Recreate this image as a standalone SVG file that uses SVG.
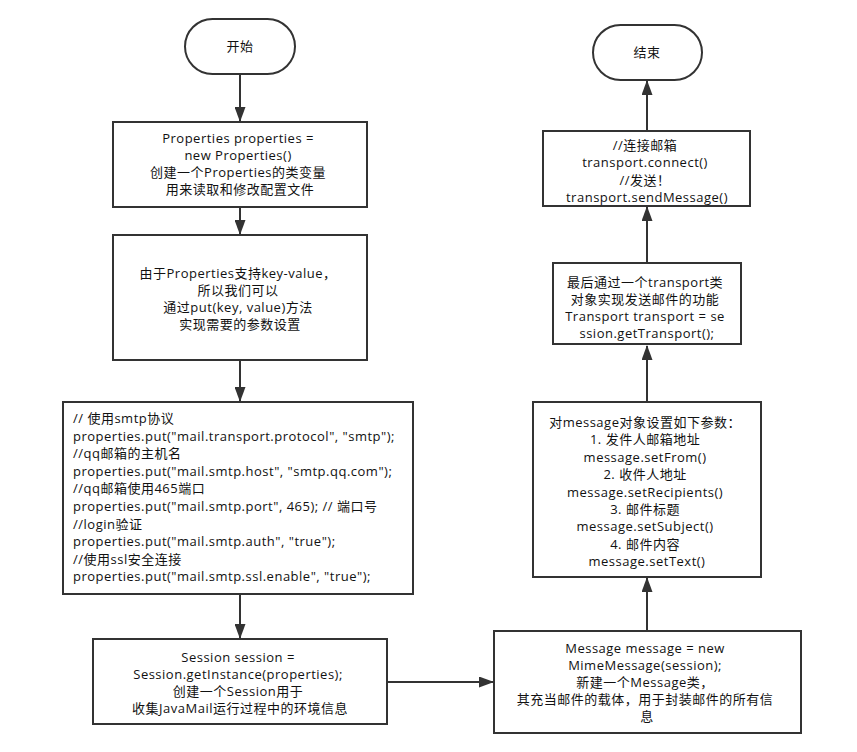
<svg xmlns="http://www.w3.org/2000/svg" width="857" height="752" viewBox="0 0 857 752">
  <style>
    .box { fill: #ffffff; stroke: #333333; stroke-width: 2; }
    .txt { font-family: "Open Sans", "Noto Sans CJK SC", sans-serif; font-size: 13px; letter-spacing: 0.5px; fill: #111111; }
    .c { text-anchor: middle; }
    .edge { stroke: #333333; stroke-width: 2; fill: none; marker-end: url(#arrow); }
  </style>
  <defs>
    <marker id="arrow" markerUnits="userSpaceOnUse" markerWidth="15" markerHeight="11" viewBox="0 0 15 11" refX="14" refY="5.5" orient="auto">
      <path d="M0,0 L15,5.5 L0,11 z" fill="#333333"/>
    </marker>
  </defs>
  <rect width="857" height="752" fill="#ffffff"/>

  <g id="connectors">
    <line class="edge" x1="240" y1="74" x2="240" y2="121"/>
    <line class="edge" x1="240" y1="207" x2="240" y2="234"/>
    <line class="edge" x1="240" y1="360" x2="240" y2="401"/>
    <line class="edge" x1="240" y1="594" x2="240" y2="638"/>
    <line class="edge" x1="387" y1="682" x2="493" y2="682"/>
    <line class="edge" x1="647" y1="631" x2="647" y2="578"/>
    <line class="edge" x1="647" y1="402" x2="647" y2="346"/>
    <line class="edge" x1="647" y1="263" x2="647" y2="207"/>
    <line class="edge" x1="647" y1="131" x2="647" y2="81"/>
  </g>

  <g id="start">
    <rect class="box" x="185" y="19" width="110" height="55" rx="27.5"/>
    <text class="txt c" x="240" y="51">开始</text>
  </g>

  <g id="create-properties">
    <rect class="box" x="113" y="122" width="254" height="85"/>
    <text class="txt c" x="240" y="143">
      <tspan x="240">Properties properties =</tspan>
      <tspan x="240" dy="17">new Properties()</tspan>
      <tspan x="240" dy="17">创建一个Properties的类变量</tspan>
      <tspan x="240" dy="17">用来读取和修改配置文件</tspan>
    </text>
  </g>

  <g id="key-value">
    <rect class="box" x="113" y="235" width="254" height="125"/>
    <text class="txt c" x="240" y="278">
      <tspan x="240">由于Properties支持key-value，</tspan>
      <tspan x="240" dy="17">所以我们可以</tspan>
      <tspan x="240" dy="17">通过put(key, value)方法</tspan>
      <tspan x="240" dy="17">实现需要的参数设置</tspan>
    </text>
  </g>

  <g id="put-settings">
    <rect class="box" x="63" y="402" width="350" height="192"/>
    <text class="txt" x="73" y="423">
      <tspan x="73">// 使用smtp协议</tspan>
      <tspan x="73" dy="17.6">properties.put("mail.transport.protocol", "smtp");</tspan>
      <tspan x="73" dy="17.6">//qq邮箱的主机名</tspan>
      <tspan x="73" dy="17.6">properties.put("mail.smtp.host", "smtp.qq.com");</tspan>
      <tspan x="73" dy="17.6">//qq邮箱使用465端口</tspan>
      <tspan x="73" dy="17.6">properties.put("mail.smtp.port", 465); // 端口号</tspan>
      <tspan x="73" dy="17.6">//login验证</tspan>
      <tspan x="73" dy="17.6">properties.put("mail.smtp.auth", "true");</tspan>
      <tspan x="73" dy="17.6">//使用ssl安全连接</tspan>
      <tspan x="73" dy="17.6">properties.put("mail.smtp.ssl.enable", "true");</tspan>
    </text>
  </g>

  <g id="session">
    <rect class="box" x="93" y="639" width="294" height="85"/>
    <text class="txt c" x="240" y="662">
      <tspan x="240">Session session =</tspan>
      <tspan x="240" dy="17">Session.getInstance(properties);</tspan>
      <tspan x="240" dy="17">创建一个Session用于</tspan>
      <tspan x="240" dy="17">收集JavaMail运行过程中的环境信息</tspan>
    </text>
  </g>

  <g id="message">
    <rect class="box" x="494" y="631" width="307" height="102"/>
    <text class="txt c" x="647" y="653">
      <tspan x="647">Message message = new</tspan>
      <tspan x="647" dy="17">MimeMessage(session);</tspan>
      <tspan x="647" dy="17">新建一个Message类，</tspan>
      <tspan x="647" dy="17">其充当邮件的载体，用于封装邮件的所有信</tspan>
      <tspan x="647" dy="17">息</tspan>
    </text>
  </g>

  <g id="set-message">
    <rect class="box" x="533" y="402" width="228" height="175"/>
    <text class="txt c" x="647" y="427">
      <tspan x="647">对message对象设置如下参数：</tspan>
      <tspan x="647" dy="17.4">1. 发件人邮箱地址</tspan>
      <tspan x="647" dy="17.4">message.setFrom()</tspan>
      <tspan x="647" dy="17.4">2. 收件人地址</tspan>
      <tspan x="647" dy="17.4">message.setRecipients()</tspan>
      <tspan x="647" dy="17.4">3. 邮件标题</tspan>
      <tspan x="647" dy="17.4">message.setSubject()</tspan>
      <tspan x="647" dy="17.4">4. 邮件内容</tspan>
      <tspan x="647" dy="17.4">message.setText()</tspan>
    </text>
  </g>

  <g id="transport">
    <rect class="box" x="553" y="263" width="188" height="81"/>
    <text class="txt c" x="647" y="287">
      <tspan x="647">最后通过一个transport类</tspan>
      <tspan x="647" dy="17">对象实现发送邮件的功能</tspan>
      <tspan x="647" dy="17">Transport transport = se</tspan>
      <tspan x="647" dy="17">ssion.getTransport();</tspan>
    </text>
  </g>

  <g id="send">
    <rect class="box" x="543" y="131" width="207" height="75"/>
    <text class="txt c" x="647" y="150">
      <tspan x="647">//连接邮箱</tspan>
      <tspan x="647" dy="17.3">transport.connect()</tspan>
      <tspan x="647" dy="17.3">//发送！</tspan>
      <tspan x="647" dy="17.3">transport.sendMessage()</tspan>
    </text>
  </g>

  <g id="end">
    <rect class="box" x="593" y="25" width="109" height="55" rx="27.5"/>
    <text class="txt c" x="647" y="57">结束</text>
  </g>
</svg>
